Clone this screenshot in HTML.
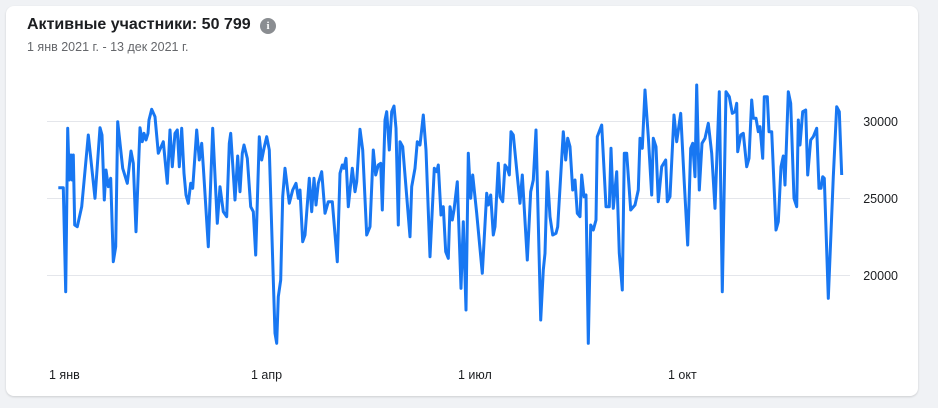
<!DOCTYPE html>
<html><head><meta charset="utf-8"><style>
body{margin:0;width:938px;height:408px;background:#f0f2f5;font-family:"Liberation Sans",sans-serif;overflow:hidden}
.card{position:absolute;left:6px;top:6px;width:912px;height:390px;background:#fff;border-radius:8px;box-shadow:0 1px 2px rgba(0,0,0,.15)}
.t{position:absolute;left:27px;top:16px;font-size:16px;color:#1c1e21;font-weight:bold}
.s{position:absolute;left:27px;top:40px;font-size:12.5px;color:#65676b}
.i{position:absolute;left:260px;top:18px;width:16px;height:16px;border-radius:50%;background:#8a8d91;color:#fff;font:bold 11px "Liberation Serif",serif;text-align:center;line-height:16px}
svg{position:absolute;left:0;top:0}
</style></head><body>
<div class="card"></div>
<div class="t">Активные участники: 50 799</div>
<div class="i">i</div>
<div class="s">1 янв 2021 г. - 13 дек 2021 г.</div>
<svg width="938" height="408" id="s">
<g stroke="#e4e6eb" stroke-width="1">
<line x1="47" x2="850" y1="121.5" y2="121.5"/><line x1="47" x2="850" y1="198.5" y2="198.5"/><line x1="47" x2="850" y1="275.5" y2="275.5"/>
</g>
<g font-size="12.5" fill="#1c1e21" font-family="Liberation Sans,sans-serif">
<text x="898" y="126" text-anchor="end">30000</text>
<text x="898" y="203" text-anchor="end">25000</text>
<text x="898" y="280" text-anchor="end">20000</text>
<text x="49" y="379">1 янв</text>
<text x="251" y="379">1 апр</text>
<text x="458" y="379">1 июл</text>
<text x="668" y="379">1 окт</text>
</g>
<path id="p" fill="none" stroke="#1877f2" stroke-width="3" stroke-linejoin="round"/>
</svg>
<script>
var z1=[[55,323],[70,323],[77,635],[83,145],[88,300],[93,225],[97,300],[100,225],[104,435],[112,440],[125,380],[145,165],[165,355],[180,143],[186,165],[193,360],[198,270],[205,320],[212,295],[220,545],[227,500],[233,125],[248,265],[262,310],[273,213],[280,250],[288,455],[300,143],[307,185],[312,160],[318,180],[324,160],[327,120],[335,88],[345,110],[355,220],[370,185],[382,310],[390,150],[397,260],[405,160],[412,150],[418,260],[425,145],[432,280],[438,345],[445,370],[452,310],[458,325],[470,150],[478,240],[485,190],[490,260],[505,500],[518,145],[532,430],[540,320],[550,395],[560,410],[568,190],[572,160],[585,360],[593,228],[600,335],[607,220],[612,195],[622,235],[632,380],[640,395],[647,525],[658,170],[665,240],[672,205],[680,170],[688,210],[700,600],[705,760],[710,790],[715,650],[722,600],[728,350],[735,265],[748,370],[758,330],[768,310],[775,355]];
var z2=[[0,330],[8,485],[15,465],[28,295],[35,395],[42,295],[48,375],[55,310],[65,275],[75,400],[85,365],[97,365],[112,545],[120,280],[127,255],[132,265],[138,235],[145,380],[157,265],[165,335],[170,305],[180,148],[188,210],[200,465],[210,440],[220,210],[227,285],[235,255],[242,250],[247,390],[255,120],[260,95],[268,210],[275,95],[282,78],[288,145],[295,435],[300,185],[308,200],[330,470],[335,320],[345,265],[352,185],[360,195],[370,105],[378,210],[390,530],[403,265],[410,275],[415,255],[423,405],[430,380],[437,515],[445,535],[450,380],[457,420],[462,390],[472,305],[483,625],[490,425],[498,690],[505,220],[512,355],[518,285],[530,400],[547,580],[560,340],[565,375],[572,345],[580,465],[585,440],[595,250],[600,350],[608,365],[615,255],[622,265],[628,285],[633,155],[640,165],[660,370],[667,285],[682,540],[692,335],[700,300],[708,150],[722,720],[730,570],[735,520],[742,275],[750,410],[758,465],[768,460],[773,440],[790,155],[797,240],[803,175],[810,200]];
var z3=[[8,330],[15,300],[22,400],[30,410],[35,285],[42,350],[48,345],[55,790],[62,435],[70,450],[78,420],[82,170],[95,135],[108,380],[118,380],[123,205],[130,385],[140,275],[148,520],[157,630],[163,220],[170,220],[182,390],[195,375],[205,330],[210,175],[217,205],[225,30],[235,170],[245,345],[250,175],[258,200],[265,365],[275,260],[287,240],[292,365],[300,350],[312,105],[320,185],[332,100],[343,310],[353,495],[362,205],[368,190],[375,290],[380,15],[388,330],[396,190],[405,175],[415,130],[425,220],[435,385],[448,35],[457,635],[468,35],[478,50],[487,100],[495,95],[500,70],[503,215],[512,165],[520,160],[530,260],[537,235],[545,60],[550,115],[558,115],[565,155],[570,140],[578,235],[583,50],[592,50],[597,155],[605,155],[618,450],[625,425],[633,260],[640,228],[645,315],[655,35],[662,70],[672,355],[680,380],[685,120],[690,195],[698,95],[707,90],[713,285],[722,180],[730,170],[740,145],[747,325],[753,325],[758,290],[763,295],[775,655],[790,290],[800,80],[808,95],[815,285]];
var d=[];
z1.forEach(function(p){d.push([40+p[0]/3,80+p[1]/3])});
z2.forEach(function(p){d.push([300+p[0]/3,80+p[1]/3])});
z3.forEach(function(p){d.push([570+p[0]/3,80+p[1]/3])});
document.getElementById('p').setAttribute('d','M'+d.map(function(p){return p[0].toFixed(1)+','+p[1].toFixed(1)}).join('L'));
</script>
</body></html>
